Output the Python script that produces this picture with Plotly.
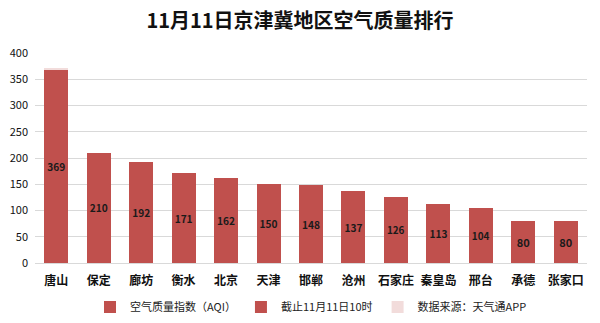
import plotly.graph_objects as go

cities = ["唐山", "保定", "廊坊", "衡水", "北京", "天津", "邯郸", "沧州", "石家庄", "秦皇岛", "邢台", "承德", "张家口"]
aqi = [369, 210, 192, 171, 162, 150, 148, 137, 126, 113, 104, 80, 80]
series2 = [None] * 13
source_cap = [3] + [None] * 12

font = "Noto Sans CJK SC"
red = "#C0504D"
pink = "#F2DCDB"

fig = go.Figure()
fig.add_trace(go.Bar(
    x=cities, y=aqi, name="空气质量指数（AQI）", marker=dict(color=red, line=dict(width=0)),
    text=[str(v) for v in aqi], textposition="inside", insidetextanchor="middle",
    textfont=dict(family=font, size=11, color="#1a1a1a", weight="bold"),
    textangle=0, hoverinfo="skip",
))
fig.add_trace(go.Bar(x=cities, y=series2, name="截止11月11日10时",
                     marker=dict(color=red, line=dict(width=0)), hoverinfo="skip"))
fig.add_trace(go.Bar(x=cities, y=source_cap, name="数据来源：天气通APP",
                     marker=dict(color=pink, line=dict(width=0)), hoverinfo="skip"))

fig.update_layout(
    barmode="stack",
    bargap=0.435,
    width=600, height=323,
    margin=dict(l=35, r=13, t=53, b=60),
    paper_bgcolor="white", plot_bgcolor="white",
    font=dict(family=font, color="#222"),
    title=dict(text="<b>11月11日京津冀地区空气质量排行</b>", x=0.5, xanchor="center",
               y=1 - 21 / 323, yanchor="middle", yref="container",
               font=dict(family=font, size=20, color="#111")),
    showlegend=True,
    legend=dict(orientation="h", x=0.5, xanchor="center", y=1 - 307 / 323, yanchor="middle",
                yref="container", font=dict(family=font, size=11, color="#222"),
                itemwidth=30, tracegroupgap=0, traceorder="normal"),
    xaxis=dict(tickfont=dict(family=font, size=12, color="#111", weight="bold"),
               showline=True, linecolor="#D9D9D9", ticks="", showgrid=False,
               automargin=False, ticklabelstandoff=7),
    yaxis=dict(range=[0, 400], dtick=50, showgrid=True, gridcolor="#D9D9D9",
               tickfont=dict(family=font, size=11, color="#111"), zeroline=False,
               ticks="", showline=False, automargin=False, ticklabelstandoff=6),
)

fig.write_html("out.html")
